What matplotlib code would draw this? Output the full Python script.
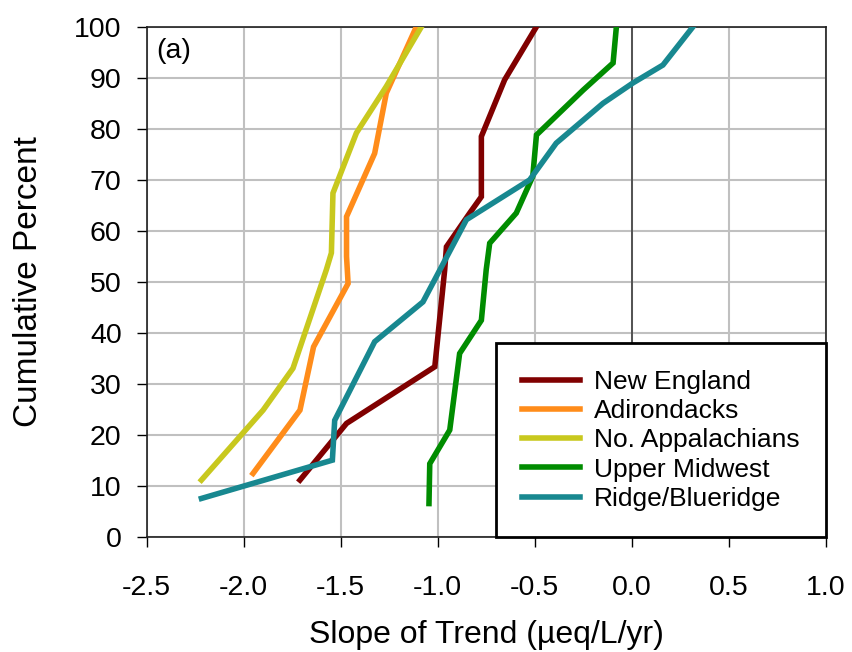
import matplotlib
matplotlib.use("Agg")
import matplotlib.pyplot as plt

plt.rcParams["font.family"] = ["Liberation Sans", "DejaVu Sans"]

# Cumulative distribution of trend slopes by region
ne_x = [-1.71, -1.47, -1.015, -0.964, -0.955, -0.835, -0.775, -0.775, -0.655, -0.491]
ne_y = [11.2, 22.3, 33.4, 52.4, 56.9, 63.5, 66.7, 78.5, 89.6, 100]

adk_x = [-1.952, -1.71, -1.64, -1.462, -1.47, -1.47, -1.325, -1.265, -1.11]
adk_y = [12.5, 24.9, 37.3, 49.7, 55.0, 62.8, 75.2, 87.0, 100]

app_x = [-2.218, -1.90, -1.746, -1.574, -1.548, -1.54, -1.419, -1.265, -1.084]
app_y = [11.2, 24.9, 33.1, 52.4, 55.7, 67.4, 79.2, 88.3, 100]

mw_x = [-1.045, -1.041, -0.938, -0.887, -0.775, -0.75, -0.732, -0.595, -0.51,
        -0.491, -0.25, -0.096, -0.079]
mw_y = [6.6, 14.4, 21.0, 36.0, 42.5, 52.4, 57.6, 63.5, 70.7, 78.8, 87.6, 92.9, 100]

rb_x = [-2.218, -1.543, -1.531, -1.325, -1.076, -0.852, -0.526, -0.389, -0.148,
        0.007, 0.161, 0.316]
rb_y = [7.6, 15.1, 22.9, 38.3, 46.1, 62.2, 70.0, 77.2, 85.0, 89.0, 92.5, 100]

series = [
    ("New England", ne_x, ne_y, "#800000"),
    ("Adirondacks", adk_x, adk_y, "#FF8C1A"),
    ("No. Appalachians", app_x, app_y, "#C8C81E"),
    ("Upper Midwest", mw_x, mw_y, "#008C00"),
    ("Ridge/Blueridge", rb_x, rb_y, "#188890"),
]

xticks = [-2.5, -2.0, -1.5, -1.0, -0.5, 0.0, 0.5, 1.0]

fig = plt.figure(figsize=(8.53, 6.52), dpi=100)
ax = fig.add_axes([0.172, 0.176, 0.796, 0.783])

for label, xs, ys, color in series:
    ax.plot(xs, ys, color=color, linewidth=4.0, label=label,
            solid_joinstyle="miter", zorder=3)

ax.axvline(0, color="#404040", linewidth=1.2, zorder=2)

ax.set_xlim(-2.5, 1.0)
ax.set_ylim(0, 100)
ax.set_xticks(xticks)
ax.set_xticklabels([f"{v:.1f}" for v in xticks])
ax.set_yticks(range(0, 101, 10))
ax.grid(True, color="#C0C0C0", linewidth=1.5, zorder=1)
ax.set_axisbelow(True)
ax.tick_params(axis="both", labelsize=20.5, length=7, width=1, direction="out")
ax.tick_params(axis="x", pad=20)
ax.tick_params(axis="y", pad=11)
for sp in ax.spines.values():
    sp.set_linewidth(1.2)
    sp.set_color("#202020")

ax.set_xlabel("Slope of Trend (\u00b5eq/L/yr)", fontsize=23, va="center",
              ha="center")
ax.xaxis.set_label_coords(0.5, -0.192)
ax.set_ylabel("Cumulative Percent", fontsize=24, va="center", ha="center")
ax.yaxis.set_label_coords(-0.174, 0.5)

ax.text(0.014, 0.978, "(a)", transform=ax.transAxes, fontsize=20.5,
        ha="left", va="top")

leg = ax.legend(loc="lower right", fontsize=19, frameon=True, fancybox=False,
                borderaxespad=0, handlelength=2.2, handletextpad=0.5,
                labelspacing=0.2, borderpad=1.0)
leg.get_frame().set_edgecolor("black")
leg.get_frame().set_linewidth(2)
leg.get_frame().set_alpha(1)

fig.savefig("out.png", dpi=100)
